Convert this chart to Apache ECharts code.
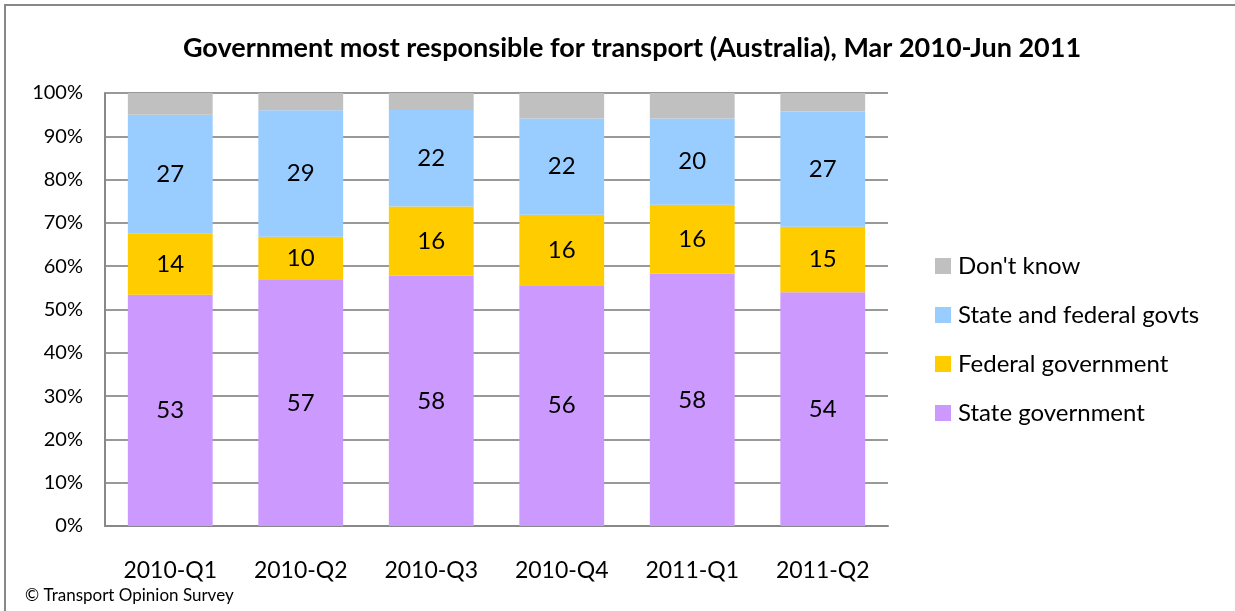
<!DOCTYPE html>
<html>
<head>
<meta charset="utf-8">
<script src="https://cdn.jsdelivr.net/npm/echarts@6/dist/echarts.min.js"></script>
<style>
  html, body { margin: 0; padding: 0; background: #fff; }
  #chart-container { width: 1235px; height: 611px; }
</style>
</head>
<body>
<div id="chart-container"></div>
<script>
const quarters = ["2010-Q1", "2010-Q2", "2010-Q3", "2010-Q4", "2011-Q1", "2011-Q2"];
const stateGovt = [53.4, 56.8, 57.8, 55.6, 58.3, 54.0];
const federalGovt = [14.2, 10.0, 16.0, 16.3, 15.9, 15.1];
const bothGovts = [27.4, 29.2, 22.3, 22.2, 19.9, 26.6];
const dontKnow = [5.0, 4.0, 3.9, 5.9, 5.9, 4.3];

const font = "Lato, 'Open Sans', sans-serif";

function barSeries(name, data, color, showLabel) {
  return {
    name: name,
    type: "bar",
    stack: "total",
    barWidth: "65%",
    data: data,
    itemStyle: { color: color },
    label: {
      show: showLabel,
      position: "inside",
      color: "#000",
      fontSize: 24,
      fontFamily: font,
      formatter: (p) => Math.round(p.value),
    },
  };
}

const chart = echarts.init(document.getElementById("chart-container"));
chart.setOption({
  animation: false,
  title: {
    text: "Government most responsible for transport (Australia), Mar 2010-Jun 2011",
    left: 627,
    textAlign: "center",
    top: 30,
    textStyle: { fontSize: 27, fontWeight: "bold", color: "#000", fontFamily: font },
  },
  grid: { left: 105, right: 347, top: 93, bottom: 85 },
  legend: {
    orient: "vertical",
    left: 930,
    top: 249,
    itemWidth: 16,
    itemHeight: 16,
    itemGap: 25,
    icon: "rect",
    data: ["Don't know", "State and federal govts", "Federal government", "State government"],
    textStyle: { fontSize: 24, color: "#000", fontFamily: font, padding: [0, 0, 0, 2] },
  },
  xAxis: {
    type: "category",
    data: quarters,
    axisLine: { lineStyle: { color: "#888", width: 2 } },
    axisTick: { show: false },
    axisLabel: { color: "#000", fontSize: 23, fontFamily: font, margin: 33 },
  },
  yAxis: {
    type: "value",
    min: 0,
    max: 100,
    interval: 10,
    axisLine: { show: true, lineStyle: { color: "#888", width: 2 } },
    axisTick: { show: false },
    axisLabel: { color: "#000", fontSize: 20, fontFamily: font, margin: 22, formatter: "{value}%" },
    splitLine: { lineStyle: { color: "#999", width: 2 } },
  },
  series: [
    barSeries("State government", stateGovt, "#CC99FF", true),
    barSeries("Federal government", federalGovt, "#FFCC00", true),
    barSeries("State and federal govts", bothGovts, "#99CCFF", true),
    barSeries("Don't know", dontKnow, "#C0C0C0", false),
  ],
  graphic: [
    {
      type: "rect",
      shape: { x: 5, y: 5, width: 1300, height: 700 },
      style: { fill: null, stroke: "#888", lineWidth: 2 },
      silent: true,
    },
    {
      type: "text",
      left: 25,
      top: 587,
      style: { text: "© Transport Opinion Survey", fontSize: 17, fontFamily: font, fill: "#000" },
    },
  ],
});
</script>
</body>
</html>
